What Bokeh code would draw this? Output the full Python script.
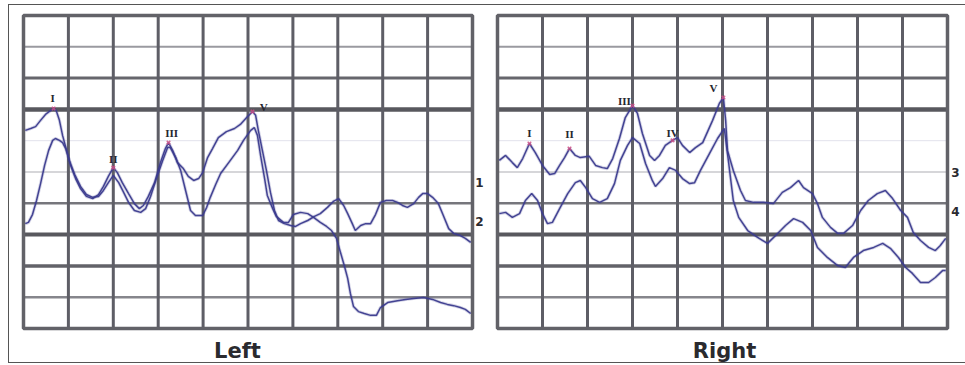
from bokeh.plotting import figure
from bokeh.models import Range1d, Label
from bokeh.layouts import row
from bokeh.core.properties import value
from bokeh.embed import file_html
from bokeh.resources import INLINE

# ---- data: (latency in ms, amplitude in grid divisions) ----
LEFT_TRACE_1 = [(0.04,6.33),(0.16,6.39),(0.27,6.45),(0.38,6.65),(0.49,6.84),(0.60,6.96),(0.67,7.03),(0.73,6.96),
    (0.80,6.65),(0.87,6.17),(0.96,5.69),(1.05,5.21),(1.16,4.79),(1.27,4.47),(1.40,4.22),(1.54,4.15),(1.67,4.28),
    (1.78,4.54),(1.89,4.86),(2.00,5.14),(2.09,4.98),(2.20,4.66),(2.34,4.31),(2.47,3.99),(2.58,3.83),(2.67,3.93),
    (2.78,4.22),(2.92,4.66),(3.05,5.30),(3.16,5.75),(3.23,5.94),(3.32,5.69),(3.43,5.30),(3.56,5.11),(3.67,4.86),
    (3.79,4.73),(3.90,4.79),(3.99,4.98),(4.10,5.46),(4.21,5.75),(4.34,6.10),(4.52,6.29),(4.70,6.39),(4.83,6.52),
    (4.97,6.74),(5.06,6.87),(5.10,6.93),(5.17,6.81),(5.23,6.33),(5.32,5.69),(5.41,5.05),(5.50,4.35),(5.59,3.77),
    (5.68,3.45),(5.81,3.35),(5.95,3.29),(6.06,3.26),(6.17,3.35),(6.33,3.45),(6.48,3.58),(6.61,3.67),(6.77,3.87),
    (6.90,4.06),(7.02,4.15),(7.13,3.93),(7.22,3.67),(7.31,3.39),(7.39,3.13),(7.51,3.29),(7.62,3.35),(7.73,3.35),
    (7.84,3.64),(7.95,4.03),(8.08,4.09),(8.22,4.09),(8.33,4.03),(8.44,3.93),(8.55,3.87),(8.69,3.99),(8.80,4.19),
    (8.89,4.31),(9.00,4.31),(9.11,4.19),(9.24,3.99),(9.35,3.61),(9.47,3.19),(9.58,3.04),(9.73,2.97),(9.84,2.88),
    (9.96,2.75)]
LEFT_TRACE_2 = [(0.04,3.35),(0.11,3.39),(0.20,3.64),(0.29,4.09),(0.38,4.63),(0.47,5.21),(0.56,5.69),(0.65,6.01),
    (0.71,6.07),(0.80,6.01),(0.87,5.94),(0.94,5.75),(1.02,5.37),(1.14,4.92),(1.27,4.54),(1.40,4.28),(1.54,4.19),
    (1.67,4.22),(1.78,4.41),(1.89,4.66),(2.00,4.89),(2.12,4.66),(2.23,4.35),(2.34,4.03),(2.47,3.77),(2.61,3.71),
    (2.72,3.83),(2.83,4.22),(2.96,4.79),(3.10,5.37),(3.21,5.78),(3.27,5.78),(3.39,5.46),(3.50,5.05),(3.61,4.41),
    (3.72,3.77),(3.83,3.61),(3.99,3.61),(4.08,3.87),(4.16,4.19),(4.28,4.60),(4.39,4.95),(4.57,5.30),(4.77,5.69),
    (4.90,6.01),(5.06,6.33),(5.14,6.42),(5.21,6.17),(5.28,5.53),(5.37,4.79),(5.43,4.25),(5.55,3.83),(5.63,3.58),
    (5.79,3.39),(5.90,3.39),(6.01,3.64),(6.17,3.71),(6.33,3.67),(6.46,3.55),(6.61,3.39),(6.75,3.26),(6.86,3.13),
    (6.97,2.88),(7.06,2.43),(7.15,1.98),(7.22,1.60),(7.28,1.12),(7.35,0.70),(7.46,0.54),(7.59,0.48),(7.73,0.42),
    (7.86,0.42),(7.95,0.67),(8.11,0.83),(8.33,0.89),(8.51,0.93),(8.69,0.96),(8.91,0.99),(9.11,0.93),(9.29,0.83),
    (9.44,0.77),(9.58,0.73),(9.73,0.67),(9.84,0.61),(9.96,0.48)]
RIGHT_TRACE_3 = [(0.04,5.37),(0.18,5.53),(0.33,5.30),(0.44,5.14),(0.56,5.43),(0.71,5.91),(0.84,5.62),(1.00,5.21),
    (1.16,4.92),(1.27,4.95),(1.38,5.21),(1.49,5.46),(1.60,5.75),(1.73,5.53),(1.84,5.46),(2.04,5.50),(2.18,5.21),
    (2.33,5.14),(2.44,5.11),(2.56,5.43),(2.71,6.07),(2.84,6.74),(3.00,7.12),(3.11,6.87),(3.22,6.23),(3.38,5.53),
    (3.49,5.37),(3.60,5.53),(3.73,5.85),(3.89,6.01),(4.00,6.10),(4.11,5.85),(4.27,5.62),(4.40,5.78),(4.56,5.94),
    (4.78,6.65),(4.93,7.19),(5.02,7.38),(5.07,6.65),(5.11,5.69),(5.24,5.05),(5.40,4.41),(5.51,4.09),(5.69,4.03),
    (5.91,4.03),(6.13,3.99),(6.33,4.35),(6.51,4.50),(6.69,4.73),(6.80,4.50),(7.00,4.31),(7.11,3.99),(7.22,3.55),
    (7.40,3.23),(7.56,3.04),(7.69,3.04),(7.89,3.29),(8.07,3.77),(8.24,4.09),(8.44,4.31),(8.62,4.41),(8.78,4.15),
    (8.96,3.77),(9.11,3.55),(9.24,3.07),(9.40,2.81),(9.58,2.59),(9.73,2.49),(9.84,2.65),(9.96,2.88)]
RIGHT_TRACE_4 = [(0.04,3.67),(0.18,3.71),(0.33,3.55),(0.49,3.67),(0.62,4.09),(0.76,4.31),(0.89,4.09),(1.00,3.67),
    (1.11,3.35),(1.22,3.39),(1.38,3.83),(1.56,4.31),(1.73,4.66),(1.84,4.73),(1.96,4.50),(2.11,4.15),(2.27,4.03),
    (2.44,4.15),(2.60,4.63),(2.73,5.37),(2.89,5.85),(3.00,6.10),(3.16,5.91),(3.29,5.27),(3.44,4.73),(3.51,4.54),
    (3.67,4.79),(3.82,5.14),(3.96,5.05),(4.11,4.79),(4.27,4.63),(4.38,4.66),(4.51,5.05),(4.71,5.59),(4.89,6.07),
    (5.04,6.39),(5.13,5.37),(5.24,4.09),(5.36,3.55),(5.56,3.13),(5.78,2.91),(6.00,2.72),(6.18,2.97),(6.40,3.29),
    (6.58,3.51),(6.78,3.39),(6.96,3.13),(7.11,2.59),(7.33,2.27),(7.56,2.01),(7.73,1.95),(7.91,2.27),(8.13,2.49),
    (8.36,2.59),(8.56,2.72),(8.73,2.56),(8.91,2.27),(9.07,1.95),(9.22,1.76),(9.40,1.47),(9.58,1.47),(9.73,1.63),
    (9.89,1.85),(9.96,1.85)]

LEFT_PEAK_NAMES = ["I", "II", "III", "V"]
LEFT_PEAK_T = [0.67, 2.00, 3.23, 5.10]
LEFT_PEAK_V = [7.03, 5.14, 5.94, 6.93]
LEFT_NAME_T = [0.65, 2.00, 3.30, 5.35]
LEFT_NAME_V = [7.35, 5.40, 6.26, 7.09]

RIGHT_PEAK_NAMES = ["I", "II", "III", "IV", "V"]
RIGHT_PEAK_T = [0.71, 1.60, 3.00, 3.89, 5.02]
RIGHT_PEAK_V = [5.91, 5.75, 7.12, 6.01, 7.38]
RIGHT_NAME_T = [0.71, 1.60, 2.82, 3.89, 4.80]
RIGHT_NAME_V = [6.26, 6.23, 7.28, 6.26, 7.67]

LEFT_TRACE_IDS = ["1", "2"]
LEFT_TRACE_ID_V = [4.66, 3.42]
RIGHT_TRACE_IDS = ["3", "4"]
RIGHT_TRACE_ID_V = [4.98, 3.74]

TIME_DIVS = list(range(0, 11))     # ms grid columns
AMP_DIVS = list(range(0, 11))      # amplitude grid rows

TRACE = "#3b3b8e"
GRID_DARK = "#5e5e66"
H_STYLE = {  # amplitude division -> (color, width)
    9: ("#9a9aa0", 2.0), 8: ("#66666c", 3.0), 7: ("#58585e", 4.5), 6: ("#e2e2ec", 1.0),
    5: ("#c8c8cc", 1.5), 4: ("#76767c", 2.5), 3: ("#58585e", 4.0), 2: ("#626268", 3.5),
    1: ("#86868c", 2.5),
}

# ---- layout geometry (page pixels) ----
OUT_X, OUT_Y = 8, 4          # outer border position
FIG_H = 357
SPLIT = 490                   # page x where the two figures meet
PAGE_R = 965
TOP_PX, BOT_PX = 15, 328      # panel box top / bottom


def panel(fig_x0, fig_x1, box_x0, box_x1, traces, peak_t, peak_v, names, name_t, name_v,
          ids, id_v, id_px, title, title_px):
    fig_y0 = OUT_Y + 1
    fig_y1 = fig_y0 + FIG_H
    sx = (box_x1 - box_x0) / 10.0
    sy = (BOT_PX - TOP_PX) / 10.0
    xr = Range1d((fig_x0 - box_x0) / sx, (fig_x1 - box_x0) / sx)
    yr = Range1d((BOT_PX - fig_y1) / sy, (BOT_PX - fig_y0) / sy)
    p = figure(width=fig_x1 - fig_x0, height=FIG_H, x_range=xr, y_range=yr,
               x_axis_type=None, y_axis_type=None, toolbar_location=None,
               output_backend="svg", min_border=0)
    p.title.visible = False
    p.outline_line_color = None
    p.background_fill_color = "white"
    p.border_fill_color = "white"
    t0, t1 = TIME_DIVS[0], TIME_DIVS[-1]
    a0, a1 = AMP_DIVS[0], AMP_DIVS[-1]
    for k in AMP_DIVS[1:-1]:
        col, w = H_STYLE[k]
        p.segment(x0=[t0], y0=[k], x1=[t1], y1=[k], line_color=col, line_width=w)
    inner = TIME_DIVS[1:-1]
    p.segment(x0=inner, y0=[a0] * len(inner), x1=inner, y1=[a1] * len(inner),
              line_color=GRID_DARK, line_width=3)
    p.quad(left=[t0], right=[t1], bottom=[a0], top=[a1], fill_color=None,
           line_color="#626268", line_width=3.5)
    for tr in traces:
        t = [a for a, b in tr]
        v = [b for a, b in tr]
        p.line(t, v, line_color=TRACE, line_width=3.2, line_alpha=0.22)
        p.line(t, v, line_color=TRACE, line_width=1.5, line_alpha=0.95)
    p.scatter(peak_t, peak_v, marker="x", size=5, line_color="#cc4f86", line_width=1.5,
              line_alpha=0.85)
    p.text(name_t, name_v, text=names, text_font=value("Liberation Serif"),
           text_font_style="bold", text_font_size="11px", text_align="center",
           text_baseline="middle", text_color="#262630")
    for s, yv in zip(ids, id_v):
        p.add_layout(Label(x=(id_px - box_x0) / sx, y=yv, text=s, text_font="DejaVu Sans",
                           text_font_style="bold", text_font_size="12px",
                           text_align="center", text_baseline="middle",
                           text_color="#2a2a30"))
    p.add_layout(Label(x=(title_px - box_x0) / sx, y=(BOT_PX - 350) / sy, text=title,
                       text_font="DejaVu Sans", text_font_style="bold",
                       text_font_size="21px", text_align="center",
                       text_baseline="alphabetic", text_color="#2a2a2e"))
    return p


left = panel(OUT_X + 1, SPLIT, 23, 472, [LEFT_TRACE_1, LEFT_TRACE_2], LEFT_PEAK_T, LEFT_PEAK_V,
             LEFT_PEAK_NAMES, LEFT_NAME_T, LEFT_NAME_V, LEFT_TRACE_IDS, LEFT_TRACE_ID_V,
             479, "Left", 237)
right = panel(SPLIT, PAGE_R, 497, 947, [RIGHT_TRACE_3, RIGHT_TRACE_4], RIGHT_PEAK_T, RIGHT_PEAK_V,
              RIGHT_PEAK_NAMES, RIGHT_NAME_T, RIGHT_NAME_V, RIGHT_TRACE_IDS, RIGHT_TRACE_ID_V,
              955, "Right", 724)

layout = row(left, right, styles={"margin-left": f"{OUT_X}px", "margin-top": f"{OUT_Y}px",
                                  "border": "1px solid #555", "border-right": "none"})
open("out.html", "w").write(file_html(layout, INLINE))
